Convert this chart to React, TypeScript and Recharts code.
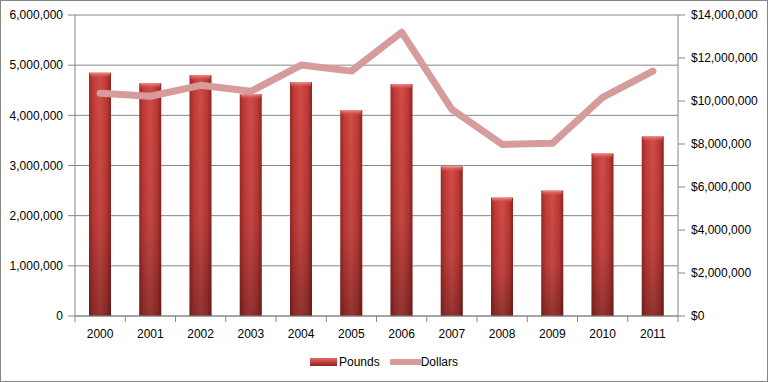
import React from "react";
import { ComposedChart, Bar, Line, XAxis, YAxis, CartesianGrid, Legend } from "recharts";

const years = ["2000","2001","2002","2003","2004","2005","2006","2007","2008","2009","2010","2011"];
const pounds = [4850000,4640000,4800000,4420000,4660000,4100000,4620000,2980000,2360000,2500000,3240000,3580000];
const dollars = [10360000,10220000,10730000,10450000,11670000,11390000,13200000,9610000,7980000,8030000,10170000,11390000];
const leftTicks = [0,1000000,2000000,3000000,4000000,5000000,6000000];
const rightTicks = [0,2000000,4000000,6000000,8000000,10000000,12000000,14000000];

const data = years.map((y, i) => ({ year: y, Pounds: pounds[i], Dollars: dollars[i] }));

const FONT = "'Liberation Sans', Arial, sans-serif";
const fmt = (v: number) => v.toLocaleString("en-US");

const BarShape = (props: any) => {
  const { x, y, width, height } = props;
  if (!height || height <= 0) return null;
  return (
    <g>
      <rect x={x} y={y} width={width} height={height} fill="url(#barH)" />
      <rect x={x} y={y} width={width} height={height} fill="url(#barV)" />
      <rect x={x + 1} y={y} width={width - 2} height={5} fill="url(#barCap)" />
    </g>
  );
};

const XTick = (props: any) => {
  const { x, y, payload, index } = props;
  const bw = 602 / 12;
  return (
    <g>
      <line x1={x - bw / 2} y1={y - 8} x2={x - bw / 2} y2={y - 2} stroke="#868686" />
      {index === years.length - 1 && (
        <line x1={x + bw / 2} y1={y - 8} x2={x + bw / 2} y2={y - 2} stroke="#868686" />
      )}
      <text x={x} y={y + 14} textAnchor="middle" fontSize={12} fontFamily={FONT} fill="#000">
        {payload.value}
      </text>
    </g>
  );
};

const LegendContent = () => (
  <div style={{ height: 20, display: "flex", justifyContent: "center", alignItems: "center", fontFamily: FONT, fontSize: 12, color: "#000" }}>
    <svg width={27} height={8} style={{ marginRight: 2 }}>
      <defs>
        <linearGradient id="legBar" x1="0" y1="0" x2="0" y2="1">
          <stop offset="0%" stopColor="#E46A66" />
          <stop offset="50%" stopColor="#C0413D" />
          <stop offset="100%" stopColor="#8A2422" />
        </linearGradient>
      </defs>
      <rect x={0} y={0} width={27} height={8} fill="url(#legBar)" />
    </svg>
    <span style={{ marginRight: 10 }}>Pounds</span>
    <svg width={31} height={8}>
      <line x1={2} y1={4} x2={29} y2={4} stroke="#D69C9B" strokeWidth={6} strokeLinecap="round" />
    </svg>
    <span>Dollars</span>
  </div>
);

export default function App() {
  return (
    <div style={{ position: "absolute", left: 0, top: 0, width: 768, height: 382, boxSizing: "border-box", border: "1px solid #868686", background: "#fff" }}>
      <ComposedChart width={766} height={380} data={data} margin={{ top: 14, right: 0, left: 0, bottom: 9 }} barCategoryGap={0}>
        <defs>
          <linearGradient id="barH" x1="0" y1="0" x2="1" y2="0">
            <stop offset="0%" stopColor="#9A2A27" />
            <stop offset="20%" stopColor="#C23C38" />
            <stop offset="50%" stopColor="#D24C48" />
            <stop offset="80%" stopColor="#BE3A36" />
            <stop offset="100%" stopColor="#8E2421" />
          </linearGradient>
          <linearGradient id="barV" x1="0" y1="0" x2="0" y2="1">
            <stop offset="0%" stopColor="#000" stopOpacity={0} />
            <stop offset="60%" stopColor="#000" stopOpacity={0.08} />
            <stop offset="100%" stopColor="#000" stopOpacity={0.3} />
          </linearGradient>
          <linearGradient id="barCap" x1="0" y1="0" x2="0" y2="1">
            <stop offset="0%" stopColor="#F48C88" />
            <stop offset="100%" stopColor="#D9534F" stopOpacity={0} />
          </linearGradient>
        </defs>
        <CartesianGrid yAxisId="left" vertical={false} stroke="#868686" />
        <XAxis dataKey="year" height={36} tickLine={false} axisLine={{ stroke: "#868686" }} tick={<XTick />} interval={0} />
        <YAxis yAxisId="left" width={74} domain={[0, 6000000]} ticks={leftTicks} tickFormatter={fmt}
          axisLine={{ stroke: "#868686" }} tickLine={{ stroke: "#868686" }} tickSize={7} tickMargin={5}
          tick={{ fontSize: 12, fontFamily: FONT, fill: "#000" }} />
        <YAxis yAxisId="right" orientation="right" width={89} domain={[0, 14000000]} ticks={rightTicks}
          tickFormatter={(v: number) => "$" + fmt(v)}
          axisLine={{ stroke: "#868686" }} tickLine={{ stroke: "#868686" }} tickSize={7} tickMargin={6}
          tick={{ fontSize: 12, fontFamily: FONT, fill: "#000" }} />
        <Bar yAxisId="left" dataKey="Pounds" barSize={22} fill="#C0413D" shape={<BarShape />} isAnimationActive={false} />
        <Line yAxisId="right" dataKey="Dollars" type="linear" stroke="#D69C9B" strokeWidth={7} strokeLinejoin="round" strokeLinecap="round" dot={false} activeDot={false} isAnimationActive={false} />
        <Legend verticalAlign="bottom" height={20} content={<LegendContent />} />
      </ComposedChart>
    </div>
  );
}
